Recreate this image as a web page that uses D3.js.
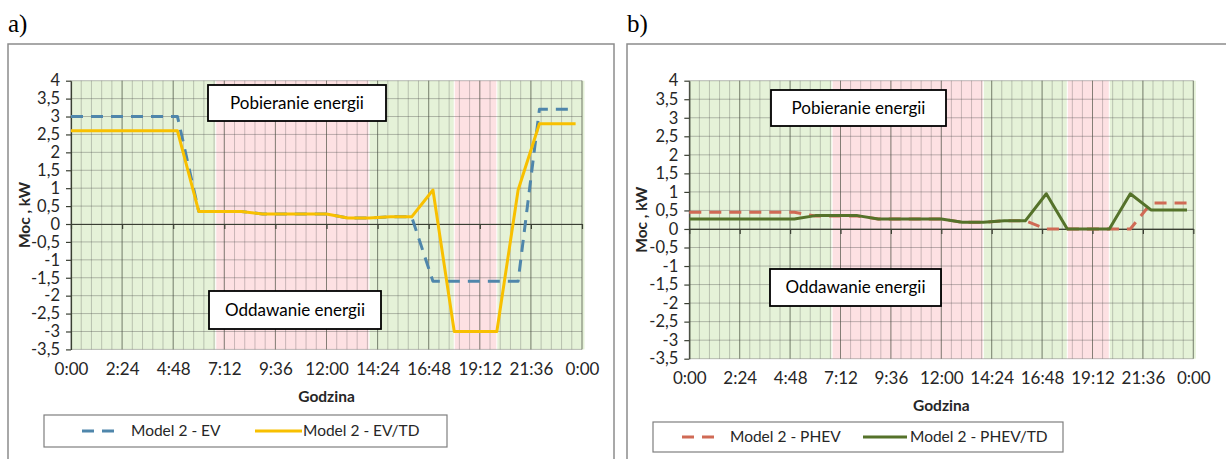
<!DOCTYPE html>
<html><head><meta charset="utf-8">
<script src="https://cdn.jsdelivr.net/npm/d3@7"></script>
<style>body{margin:0;background:#fff;} svg{display:block}</style>
</head><body><svg id="c" width="1226" height="459"></svg>
<script>
// ---- data ----
const hours = [0,1,2,3,4,5,6,7,8,9,10,11,12,13,14,15,16,17,18,19,20,21,22,23.7];
const evValues     = [3,3,3,3,3,3,0.35,0.35,0.35,0.28,0.28,0.28,0.28,0.17,0.17,0.2,0.2,-1.6,-1.6,-1.6,-1.6,-1.6,3.2,3.2];
const evTdValues   = [2.6,2.6,2.6,2.6,2.6,2.6,0.35,0.35,0.35,0.28,0.28,0.28,0.28,0.17,0.17,0.2,0.2,0.95,-3,-3,-3,0.95,2.8,2.8];
const phevValues   = [0.45,0.45,0.45,0.45,0.45,0.45,0.35,0.35,0.35,0.27,0.27,0.27,0.27,0.18,0.18,0.22,0.22,0,0,0,0,0,0.7,0.7];
const phevTdValues = [0.27,0.27,0.27,0.27,0.27,0.27,0.36,0.36,0.36,0.27,0.27,0.27,0.27,0.18,0.18,0.22,0.22,0.95,0,0,0,0.95,0.51,0.51];
const bandStarts = [0, 6.8, 14, 18, 20];
const bandEnds   = [6.8, 14, 18, 20, 24];
const bandKinds  = ["charge","discharge","charge","discharge","charge"];
const xTickValues = [0,2.4,4.8,7.2,9.6,12,14.4,16.8,19.2,21.6,24];
const xTickLabels = ["0:00","2:24","4:48","7:12","9:36","12:00","14:24","16:48","19:12","21:36","0:00"];
const yTickValues = [4,3.5,3,2.5,2,1.5,1,0.5,0,-0.5,-1,-1.5,-2,-2.5,-3,-3.5];
const yTickLabels = ["4","3,5","3","2,5","2","1,5","1","0,5","0","-0,5","-1","-1,5","-2","-2,5","-3","-3,5"];
const seriesNamesA = ["Model 2 - EV","Model 2 - EV/TD"];
const seriesNamesB = ["Model 2 - PHEV","Model 2 - PHEV/TD"];
const panelLetters = ["a)","b)"];
const axisTitleX = "Godzina";
const axisTitleY = "Moc , kW";
const noteTop = "Pobieranie energii";
const noteBottom = "Oddawanie energii";

const FONT = "Lato, 'Open Sans', sans-serif";
const svg = d3.select("#c");

const panels = [
  { letter: panelLetters[0], fx:8, fy:44, fw:606, x0:71, x1:582, yTop:80.7, yBot:349.4,
    series:[{name:seriesNamesA[0], values:evValues, color:"#4f86ab", dash:"12,8"},
            {name:seriesNamesA[1], values:evTdValues, color:"#f8c000", dash:null}],
    titleYx:25, titleXy:397, labelOff:24,
    noteT:[208,85,178,36], noteB:[209,291,172,38],
    legend:[44,415,403,32], leg1:[82,117,131], leg2:[255,302,303] },
  { letter: panelLetters[1], fx:627, fy:44, fw:620, x0:689.3, x1:1193.3, yTop:80.7, yBot:358.7,
    series:[{name:seriesNamesB[0], values:phevValues, color:"#d06a55", dash:"12,8"},
            {name:seriesNamesB[1], values:phevTdValues, color:"#55722a", dash:null}],
    titleYx:642, titleXy:406, labelOff:23,
    noteT:[771,90,175,36], noteB:[770,269,171,37],
    legend:[653,422,410,30], leg1:[682,717,730], leg2:[863,907,910] }
];

panels.forEach(p => {
  const g = svg.append("g");
  g.append("text").attr("x", p.fx).attr("y", 32).text(p.letter)
    .attr("font-family","'Liberation Serif', 'Times New Roman', serif").attr("font-size",25).attr("fill","#000");
  g.append("rect").attr("x",p.fx).attr("y",p.fy).attr("width",p.fw).attr("height",440)
    .attr("fill","#fff").attr("stroke","#8c8c8c").attr("stroke-width",1.5);

  const x = d3.scaleLinear().domain([0,24]).range([p.x0,p.x1]);
  const y = d3.scaleLinear().domain([-3.5,4]).range([p.yBot,p.yTop]);

  // bands
  g.append("g").selectAll("rect").data(bandStarts).join("rect")
    .attr("x",(d)=>x(d)+0.5)
    .attr("width",(d,i)=>x(bandEnds[i])-x(d)-1 + (i===bandStarts.length-1?3:0))
    .attr("y",p.yTop).attr("height",p.yBot-p.yTop)
    .attr("fill",(d,i)=>bandKinds[i]==="charge"?"#e5f2d8":"#fde1e3");

  // grid
  const minor = d3.range(0,24.001,0.48);
  g.append("g").selectAll("line").data(minor).join("line")
    .attr("x1",d=>x(d)).attr("x2",d=>x(d)).attr("y1",p.yTop).attr("y2",p.yBot)
    .attr("stroke","rgba(70,70,70,0.28)").attr("stroke-width",1);
  g.append("g").selectAll("line").data(xTickValues).join("line")
    .attr("x1",d=>x(d)).attr("x2",d=>x(d)).attr("y1",p.yTop).attr("y2",p.yBot)
    .attr("stroke","rgba(50,60,40,0.45)").attr("stroke-width",1);
  g.append("g").selectAll("line").data(yTickValues).join("line")
    .attr("x1",p.x0).attr("x2",p.x1).attr("y1",d=>y(d)).attr("y2",d=>y(d))
    .attr("stroke","rgba(70,70,70,0.35)").attr("stroke-width",1);

  // y axis
  const ya = g.append("g").attr("transform",`translate(${p.x0},0)`)
    .call(d3.axisLeft(y).tickValues(yTickValues).tickFormat((d,i)=>yTickLabels[i]).tickSizeInner(5).tickSizeOuter(0).tickPadding(6));
  ya.selectAll("path,line").attr("stroke","#3a3f33").attr("stroke-width",1.2);
  ya.selectAll("text").attr("font-family",FONT).attr("font-size",16.5).attr("fill","#262626");

  // x axis line at zero
  const xa = g.append("g").attr("transform",`translate(0,${y(0)})`)
    .call(d3.axisBottom(x).tickValues(xTickValues).tickFormat("").tickSizeInner(5).tickSizeOuter(0));
  xa.selectAll("path,line").attr("stroke","#3a3f33").attr("stroke-width",1.2);
  // x tick labels at bottom
  const xl = g.append("g").attr("transform",`translate(0,${p.yBot})`)
    .call(d3.axisBottom(x).tickValues(xTickValues).tickFormat((d,i)=>xTickLabels[i]).tickSize(0).tickPadding(p.labelOff-10));
  xl.select(".domain").remove();
  xl.selectAll("text").attr("font-family",FONT).attr("font-size",17).attr("fill","#262626");

  // series lines (dashed under solid)
  const line = d3.line().x((d,i)=>x(hours[i])).y(d=>y(d));
  p.series.forEach(s => {
    g.append("path").datum(s.values).attr("d",line).attr("fill","none")
      .attr("stroke",s.color).attr("stroke-width",3)
      .attr("stroke-dasharray",s.dash).attr("stroke-linejoin","round");
  });

  // notes
  [[p.noteT,noteTop],[p.noteB,noteBottom]].forEach(([b,t])=>{
    g.append("rect").attr("x",b[0]).attr("y",b[1]).attr("width",b[2]).attr("height",b[3])
      .attr("fill","#fff").attr("stroke","#000").attr("stroke-width",1.8);
    g.append("text").attr("x",b[0]+b[2]/2).attr("y",b[1]+b[3]/2).attr("dy","0.35em")
      .attr("text-anchor","middle").attr("font-family",FONT).attr("font-size",17).attr("fill","#000").text(t);
  });

  // axis titles
  g.append("text").attr("transform",`translate(${p.titleYx},${(p.yTop+p.yBot)/2}) rotate(-90)`)
    .attr("text-anchor","middle").attr("dy","0.35em").attr("font-family",FONT).attr("font-weight","bold")
    .attr("font-size",15.5).attr("fill","#262626").text(axisTitleY);
  g.append("text").attr("x",(p.x0+p.x1)/2).attr("y",p.titleXy).attr("dy","0.35em")
    .attr("text-anchor","middle").attr("font-family",FONT).attr("font-weight","bold")
    .attr("font-size",15.5).attr("fill","#262626").text(axisTitleX);

  // legend
  const L = p.legend;
  const ly = L[1]+L[3]/2;
  g.append("rect").attr("x",L[0]).attr("y",L[1]).attr("width",L[2]).attr("height",L[3])
    .attr("fill","#fff").attr("stroke","#7f7f7f").attr("stroke-width",1.2);
  [[p.leg1,p.series[0]],[p.leg2,p.series[1]]].forEach(([e,s])=>{
    g.append("line").attr("x1",e[0]).attr("x2",e[1]).attr("y1",ly).attr("y2",ly)
      .attr("stroke",s.color).attr("stroke-width",3).attr("stroke-dasharray",s.dash);
    g.append("text").attr("x",e[2]).attr("y",ly).attr("dy","0.35em").attr("font-family",FONT)
      .attr("font-size",15.5).attr("fill","#262626").text(s.name);
  });
});
</script></body></html>
